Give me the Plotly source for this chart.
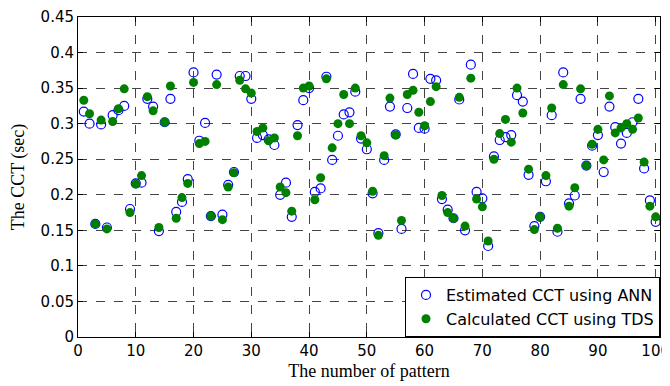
import plotly.graph_objects as go

pattern = list(range(1, 101))

cct_ann = [
    0.317, 0.300, 0.159, 0.299, 0.154, 0.312, 0.319, 0.325, 0.180, 0.216,
    0.217, 0.335, 0.324, 0.149, 0.302, 0.335, 0.176, 0.190, 0.222, 0.372,
    0.276, 0.301, 0.170, 0.369, 0.172, 0.214, 0.232, 0.367, 0.367, 0.335,
    0.280, 0.284, 0.278, 0.270, 0.200, 0.217, 0.169, 0.298, 0.333, 0.350,
    0.204, 0.209, 0.366, 0.249, 0.283, 0.313, 0.316, 0.345, 0.279, 0.264,
    0.202, 0.146, 0.249, 0.324, 0.285, 0.152, 0.322, 0.370, 0.294, 0.293,
    0.363, 0.361, 0.194, 0.179, 0.167, 0.334, 0.150, 0.383, 0.204, 0.195,
    0.128, 0.254, 0.277, 0.281, 0.284, 0.340, 0.331, 0.228, 0.156, 0.169,
    0.219, 0.312, 0.148, 0.372, 0.188, 0.199, 0.335, 0.241, 0.269, 0.284,
    0.232, 0.324, 0.295, 0.272, 0.287, 0.302, 0.335, 0.237, 0.192, 0.162,
]

cct_tds = [
    0.333, 0.314, 0.159, 0.305, 0.152, 0.303, 0.321, 0.349, 0.175, 0.215,
    0.227, 0.338, 0.318, 0.154, 0.302, 0.353, 0.167, 0.196, 0.216, 0.358,
    0.272, 0.275, 0.170, 0.355, 0.165, 0.211, 0.231, 0.361, 0.349, 0.343,
    0.289, 0.294, 0.276, 0.280, 0.211, 0.203, 0.177, 0.283, 0.350, 0.353,
    0.193, 0.224, 0.363, 0.266, 0.300, 0.341, 0.300, 0.350, 0.283, 0.273,
    0.205, 0.143, 0.255, 0.336, 0.284, 0.164, 0.341, 0.347, 0.316, 0.297,
    0.331, 0.352, 0.199, 0.175, 0.167, 0.337, 0.156, 0.364, 0.194, 0.183,
    0.135, 0.250, 0.286, 0.306, 0.274, 0.350, 0.315, 0.236, 0.151, 0.169,
    0.227, 0.322, 0.153, 0.355, 0.184, 0.210, 0.349, 0.241, 0.271, 0.292,
    0.249, 0.339, 0.287, 0.294, 0.300, 0.292, 0.308, 0.246, 0.184, 0.169,
]

x_ticks = [0, 10, 20, 30, 40, 50, 60, 70, 80, 90, 100]
y_ticks = [0, 0.05, 0.1, 0.15, 0.2, 0.25, 0.3, 0.35, 0.4, 0.45]
y_tick_text = ["0", "0.05", "0.1", "0.15", "0.2", "0.25", "0.3", "0.35", "0.4", "0.45"]

fig = go.Figure()
fig.add_trace(go.Scatter(
    x=pattern, y=cct_ann, mode="markers", name="Estimated CCT using ANN",
    marker=dict(symbol="circle-open", size=9, color="#0000FF", line=dict(width=1.2, color="#0000FF")),
))
fig.add_trace(go.Scatter(
    x=pattern, y=cct_tds, mode="markers", name="Calculated CCT using TDS",
    marker=dict(symbol="circle", size=9, color="#008000", line=dict(width=0)),
))

axis_common = dict(
    showline=True, linecolor="black", linewidth=1, mirror="ticks",
    ticks="inside", ticklen=5, tickcolor="black",
    showgrid=True, gridcolor="#444444", griddash="dash", gridwidth=1,
    zeroline=False, automargin=False, ticklabeloverflow="allow",
    tickfont=dict(family="DejaVu Sans, Arial, sans-serif", size=15, color="black"),
)

fig.update_xaxes(
    range=[0, 100.75], tickvals=x_ticks, ticktext=[str(v) for v in x_ticks],
    title=dict(text="The number of pattern", standoff=5,
               font=dict(family="Liberation Serif, Times New Roman, serif", size=18, color="black")),
    **axis_common,
)
fig.update_yaxes(
    range=[0, 0.45], tickvals=y_ticks, ticktext=y_tick_text,
    title=dict(text="The CCT (sec)", standoff=16,
               font=dict(family="Liberation Serif, Times New Roman, serif", size=18, color="black")),
    **axis_common,
)

# page body has an 8px default margin, so the figure is sized to fit the 670x386 window
fig.update_layout(
    width=662, height=378,
    margin=dict(l=70, r=10, t=9, b=49),
    paper_bgcolor="white", plot_bgcolor="white",
    showlegend=True,
    legend=dict(
        x=1, y=0, xanchor="right", yanchor="bottom",
        bgcolor="white", bordercolor="black", borderwidth=1,
        font=dict(family="DejaVu Sans, Arial, sans-serif", size=16, color="black"),
        itemwidth=30, tracegroupgap=0,
    ),
)

fig.write_html("out.html")
